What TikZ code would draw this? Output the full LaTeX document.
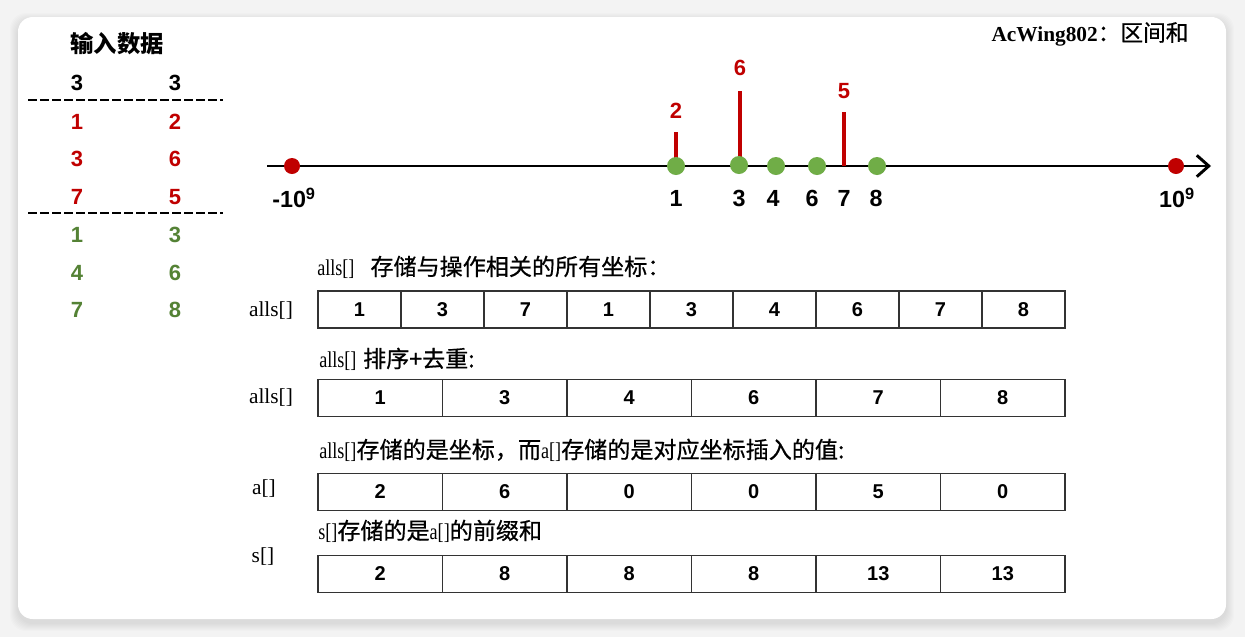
\documentclass[tikz,border=0pt]{standalone}
\usepackage{fontspec}
\setmainfont{Liberation Serif}
\newfontfamily\capserif[FakeStretch=0.8]{Liberation Serif}
\newfontfamily\sansf{Liberation Sans}
\newfontfamily\cjk{Noto Sans CJK SC}
\newfontfamily\cjkm[FakeBold=0.6]{Noto Sans CJK SC}
\usetikzlibrary{arrows.meta}
\definecolor{myred}{HTML}{C00000}
\definecolor{dotgreen}{HTML}{70AD47}
\definecolor{txtgreen}{HTML}{548235}
\definecolor{bggray}{HTML}{F3F3F3}
\newcommand{\zh}[1]{{\cjkm\fontsize{17.3}{19}\selectfont #1}}
\tikzset{
  num/.style={font=\sansf\bfseries\fontsize{16.5}{18}\selectfont, inner sep=0pt},
  axnum/.style={font=\sansf\bfseries\fontsize{17.5}{19}\selectfont, inner sep=0pt},
  rednum/.style={font=\sansf\bfseries\fontsize{16.5}{18}\selectfont, inner sep=0pt, text=myred},
  cell/.style={draw=black!80, line width=1.1pt, minimum height=27.75pt, inner sep=0pt,
    font=\sansf\bfseries\fontsize{15}{16}\selectfont},
  captext/.style={font=\capserif\fontsize{17}{19}\selectfont, inner sep=0pt, anchor=west},
  lab/.style={font=\fontsize{16}{18}\selectfont, inner sep=0pt},
  gdot/.style={circle, fill=dotgreen, minimum size=13.5pt, inner sep=0pt},
  rdot/.style={circle, fill=myred, minimum size=12pt, inner sep=0pt},
  redline/.style={myred, line width=3pt},
  axisline/.style={black, line width=2.2pt, -{Straight Barb[length=9pt,width=16pt]}},
  sepline/.style={black, line width=1.8pt, dash pattern=on 6.75pt off 2.25pt},
}
\begin{document}
\begin{tikzpicture}[x=0.75pt,y=-0.75pt]
\useasboundingbox (0,0) rectangle (1245,637);
\fill[bggray] (0,0) rectangle (1245,637);
% shadow
\foreach \k in {1,...,8}{
  \fill[black, opacity=0.012, rounded corners=12pt] (18-\k,17-\k+4) rectangle (1226+\k,619+\k+4);
}
\fill[white, rounded corners=11pt] (18,17) rectangle (1226,619);

% title
\node[inner sep=0pt, font=\fontsize{16}{18}\selectfont] (title) at (1090,34) {\textbf{AcWing802}{\cjkm\fontsize{17}{18}\selectfont ：区间和}};

% input data
\node[inner sep=0pt, font=\cjk\bfseries\fontsize{17.5}{19}\selectfont] (inhead) at (117,44) {输入数据};
\node[num] (r0a) at (77,83) {3};
\node[num] (r0b) at (175,83) {3};
\coordinate (d1l) at (28,100); \coordinate (d1r) at (223,100);
\draw[sepline] (d1l) -- (d1r);
\node[num, text=myred] (r1a) at (77,122) {1};
\node[num, text=myred] (r1b) at (175,122) {2};
\node[num, text=myred] (r2a) at (77,159) {3};
\node[num, text=myred] (r2b) at (175,159) {6};
\node[num, text=myred] (r3a) at (77,197) {7};
\node[num, text=myred] (r3b) at (175,197) {5};
\coordinate (d2l) at (28,213); \coordinate (d2r) at (223,213);
\draw[sepline] (d2l) -- (d2r);
\node[num, text=txtgreen] (q1a) at (77,235) {1};
\node[num, text=txtgreen] (q1b) at (175,235) {3};
\node[num, text=txtgreen] (q2a) at (77,273) {4};
\node[num, text=txtgreen] (q2b) at (175,273) {6};
\node[num, text=txtgreen] (q3a) at (77,310) {7};
\node[num, text=txtgreen] (q3b) at (175,310) {8};

% number line
\coordinate (ax0) at (267,166);
\coordinate (ax1) at (1211,166);
\draw[axisline] (ax0) -- (ax1);
% red value lines
\coordinate (t1) at (676,132); \coordinate (b1) at (676,160);
\coordinate (t3) at (740,91);  \coordinate (b3) at (740,160);
\coordinate (t7) at (844,112); \coordinate (b7) at (844,166);
\draw[redline] (b1) -- (t1);
\draw[redline] (b3) -- (t3);
\draw[redline] (b7) -- (t7);
\node[rednum] (v1) at (676,111) {2};
\node[rednum] (v3) at (740,68) {6};
\node[rednum] (v7) at (844,91) {5};
% dots
\node[rdot] (lo) at (292,166) {};
\node[rdot] (hi) at (1176,166) {};
\node[gdot] (p1) at (676,166) {};
\node[gdot] (p3) at (739,165) {};
\node[gdot] (p4) at (776,166) {};
\node[gdot] (p6) at (817,166) {};
\node[gdot] (p8) at (877,166) {};
% axis labels
\node[axnum] (llo) at (294,198) {-10\textsuperscript{9}};
\node[axnum] (lhi) at (1177,198) {10\textsuperscript{9}};
\node[axnum] (l1) at (676,198) {1};
\node[axnum] (l3) at (739,198) {3};
\node[axnum] (l4) at (773,198) {4};
\node[axnum] (l6) at (812,198) {6};
\node[axnum] (l7) at (844,198) {7};
\node[axnum] (l8) at (876,198) {8};

% array 1
\node[captext] (cap1) at (317,267) {alls[]\hspace{12pt}\zh{存储与操作相关的所有坐标：}};
\node[lab] (n1) at (271,311) {alls[]};
\foreach \v [count=\i] in {1,3,7,1,3,4,6,7,8}
  \node[cell, minimum width=62.25pt] (A\i) at ({318+(\i-0.5)*83},309.5) {\v};

% array 2
\node[captext] (cap2) at (319,359) {alls[]\hspace{5pt}\zh{排序+去重:}};
\node[lab] (n2) at (271,398) {alls[]};
\foreach \v [count=\i] in {1,3,4,6,7,8}
  \node[cell, minimum width=93.375pt] (B\i) at ({318+(\i-0.5)*124.5},398) {\v};

% array 3
\node[captext] (cap3) at (319,450) {alls[]\zh{存储的是坐标，而}a[]\zh{存储的是对应坐标插入的值:}};
\node[lab] (n3) at (264,489) {a[]};
\foreach \v [count=\i] in {2,6,0,0,5,0}
  \node[cell, minimum width=93.375pt] (C\i) at ({318+(\i-0.5)*124.5},492) {\v};

% array 4
\node[captext] (cap4) at (318,531) {s[]\zh{存储的是}a[]\zh{的前缀和}};
\node[lab] (n4) at (263,557) {s[]};
\foreach \v [count=\i] in {2,8,8,8,13,13}
  \node[cell, minimum width=93.375pt] (D\i) at ({318+(\i-0.5)*124.5},574) {\v};
\end{tikzpicture}
\end{document}
